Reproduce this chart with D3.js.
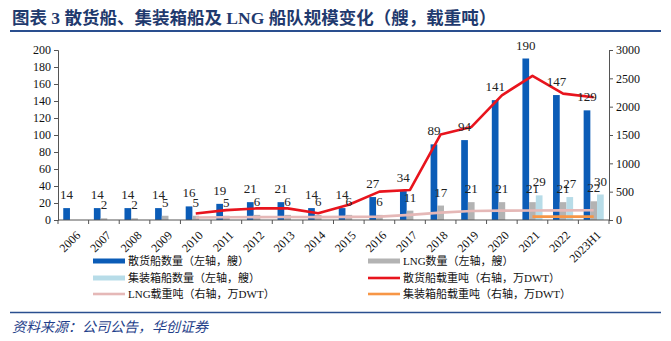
<!DOCTYPE html>
<html>
<head>
<meta charset="utf-8">
<script src="https://cdn.jsdelivr.net/npm/d3@7"></script>
<style>
body { margin: 0; background: #fff; }
text { font-family: "Liberation Serif", "Noto Sans CJK SC", serif; }
</style>
</head>
<body>
<svg id="chart" width="671" height="341"></svg>
<script>
// data
var years = ["2006","2007","2008","2009","2010","2011","2012","2013","2014","2015","2016","2017","2018","2019","2020","2021","2022","2023H1"];
var bulkCount = [14,14,14,14,16,19,21,21,14,14,27,34,89,94,141,190,147,129];
var lngCount = [null,2,2,5,5,5,6,6,6,6,6,11,17,21,21,21,21,22];
var boxCount = [null,null,null,null,null,null,null,null,null,null,null,null,null,null,null,29,27,30];
var bulkDwt = [null,null,null,null,115,175,205,205,120,270,500,530,1510,1640,2200,2545,2230,2165];
var lngDwt = [null,null,null,null,45,48,50,52,50,55,60,90,130,160,165,168,170,172];
var boxDwt = [null,null,null,null,null,null,null,null,null,null,null,null,null,null,null,60,60,60];
var leftTicks = [0,20,40,60,80,100,120,140,160,180,200];
var rightTicks = [0,500,1000,1500,2000,2500,3000];

var svg = d3.select("#chart");

// title
svg.append("text").attr("x", 12).attr("y", 24)
  .attr("font-size", 17.5).attr("font-weight", "bold").attr("fill", "#1f3a6e")
  .text("图表 3 散货船、集装箱船及 LNG 船队规模变化（艘，载重吨）");
svg.append("line").attr("x1", 10).attr("x2", 661).attr("y1", 31).attr("y2", 31)
  .attr("stroke", "#2a4f8f").attr("stroke-width", 2);

var x = d3.scaleBand().domain(years).range([58, 609]).padding(0);
var yL = d3.scaleLinear().domain([0, 200]).range([220, 50]);
var yR = d3.scaleLinear().domain([0, 3000]).range([220, 50]);

var bw = 6.7;
var series = [
  {vals: bulkCount, color: "#0b5cb7", off: -1},
  {vals: lngCount, color: "#b3b3b3", off: 0},
  {vals: boxCount, color: "#b7dce8", off: 1}
];

// bars
series.forEach(function(s) {
  var pts = years.map(function(y, i) { return {y: y, v: s.vals[i]}; }).filter(function(d) { return d.v != null; });
  svg.append("g").selectAll("rect").data(pts).enter().append("rect")
    .attr("x", function(d) { return x(d.y) + x.bandwidth() / 2 + s.off * bw - bw / 2; })
    .attr("y", function(d) { return yL(d.v); })
    .attr("width", bw)
    .attr("height", function(d) { return yL(0) - yL(d.v); })
    .attr("fill", s.color);
});

// lines
var lines = [
  {vals: lngDwt, color: "#e5b8b7"},
  {vals: boxDwt, color: "#f79646"},
  {vals: bulkDwt, color: "#e8141d"}
];
var lineGen = d3.line()
  .defined(function(d) { return d.v != null; })
  .x(function(d) { return x(d.y) + x.bandwidth() / 2; })
  .y(function(d) { return yR(d.v); });
lines.forEach(function(l) {
  var pts = years.map(function(y, i) { return {y: y, v: l.vals[i]}; });
  svg.append("path").datum(pts).attr("d", lineGen)
    .attr("fill", "none").attr("stroke", l.color).attr("stroke-width", 2.6)
    .attr("stroke-linejoin", "round");
});

// data labels
series.forEach(function(s) {
  var pts = years.map(function(y, i) { return {y: y, v: s.vals[i]}; }).filter(function(d) { return d.v != null; });
  svg.append("g").selectAll("text").data(pts).enter().append("text")
    .attr("x", function(d) { return x(d.y) + x.bandwidth() / 2 + s.off * bw; })
    .attr("y", function(d) { return yL(d.v) - 9; })
    .attr("text-anchor", "middle").attr("font-size", 13).attr("fill", "#222")
    .text(function(d) { return d.v; });
});

// axes
var axL = svg.append("g").attr("transform", "translate(58,0)")
  .call(d3.axisLeft(yL).tickValues(leftTicks).tickSizeOuter(0).tickSize(4));
var axR = svg.append("g").attr("transform", "translate(609,0)")
  .call(d3.axisRight(yR).tickValues(rightTicks).tickFormat(d3.format("d")).tickSizeOuter(0).tickSize(4));
[axL, axR].forEach(function(a) {
  a.selectAll("text").attr("font-size", 12).attr("fill", "#111")
    .style("font-family", "'Liberation Serif', serif");
  a.selectAll("line,path").attr("stroke", "#555");
});

var axX = svg.append("g").attr("transform", "translate(0,220)");
axX.append("line").attr("x1", 58).attr("x2", 609).attr("stroke", "#555");
axX.selectAll("line.tk").data(years.concat(["end"])).enter().append("line")
  .attr("class", "tk")
  .attr("x1", function(d, i) { return 58 + i * x.bandwidth(); })
  .attr("x2", function(d, i) { return 58 + i * x.bandwidth(); })
  .attr("y1", 0).attr("y2", 4).attr("stroke", "#555");
axX.selectAll("text").data(years).enter().append("text")
  .attr("transform", function(d) { return "translate(" + (x(d) + x.bandwidth() / 2 + 2) + ",10) rotate(-45)"; })
  .attr("text-anchor", "end").attr("dy", "0.7em").attr("font-size", 12).attr("fill", "#111")
  .text(function(d) { return d; });

// legend
var legend = [
  {name: "散货船数量（左轴，艘）", color: "#0b5cb7", bar: true, lx: 93, ly: 261},
  {name: "LNG数量（左轴，艘）", color: "#b3b3b3", bar: true, lx: 368, ly: 261},
  {name: "集装箱船数量（左轴，艘）", color: "#b7dce8", bar: true, lx: 93, ly: 278},
  {name: "散货船载重吨（右轴，万DWT）", color: "#e8141d", bar: false, lx: 368, ly: 278},
  {name: "LNG载重吨（右轴，万DWT）", color: "#e5b8b7", bar: false, lx: 93, ly: 294},
  {name: "集装箱船载重吨（右轴，万DWT）", color: "#f79646", bar: false, lx: 368, ly: 294}
];
var lg = svg.append("g").selectAll("g").data(legend).enter().append("g");
lg.append("line")
  .attr("x1", function(d) { return d.lx; }).attr("x2", function(d) { return d.lx + 32; })
  .attr("y1", function(d) { return d.ly; }).attr("y2", function(d) { return d.ly; })
  .attr("stroke", function(d) { return d.color; })
  .attr("stroke-width", function(d) { return d.bar ? 5 : 2.6; });
lg.append("text")
  .attr("x", function(d) { return d.lx + 35; }).attr("y", function(d) { return d.ly + 4; })
  .attr("font-size", 11).attr("fill", "#111")
  .text(function(d) { return d.name; });

// footer
svg.append("line").attr("x1", 10).attr("x2", 661).attr("y1", 312.5).attr("y2", 312.5)
  .attr("stroke", "#2a4f8f").attr("stroke-width", 1.5);
svg.append("text").attr("x", 12).attr("y", 332)
  .attr("font-size", 14).attr("font-style", "italic").attr("fill", "#1f3f8a")
  .text("资料来源：公司公告，华创证券");
</script>
</body>
</html>
